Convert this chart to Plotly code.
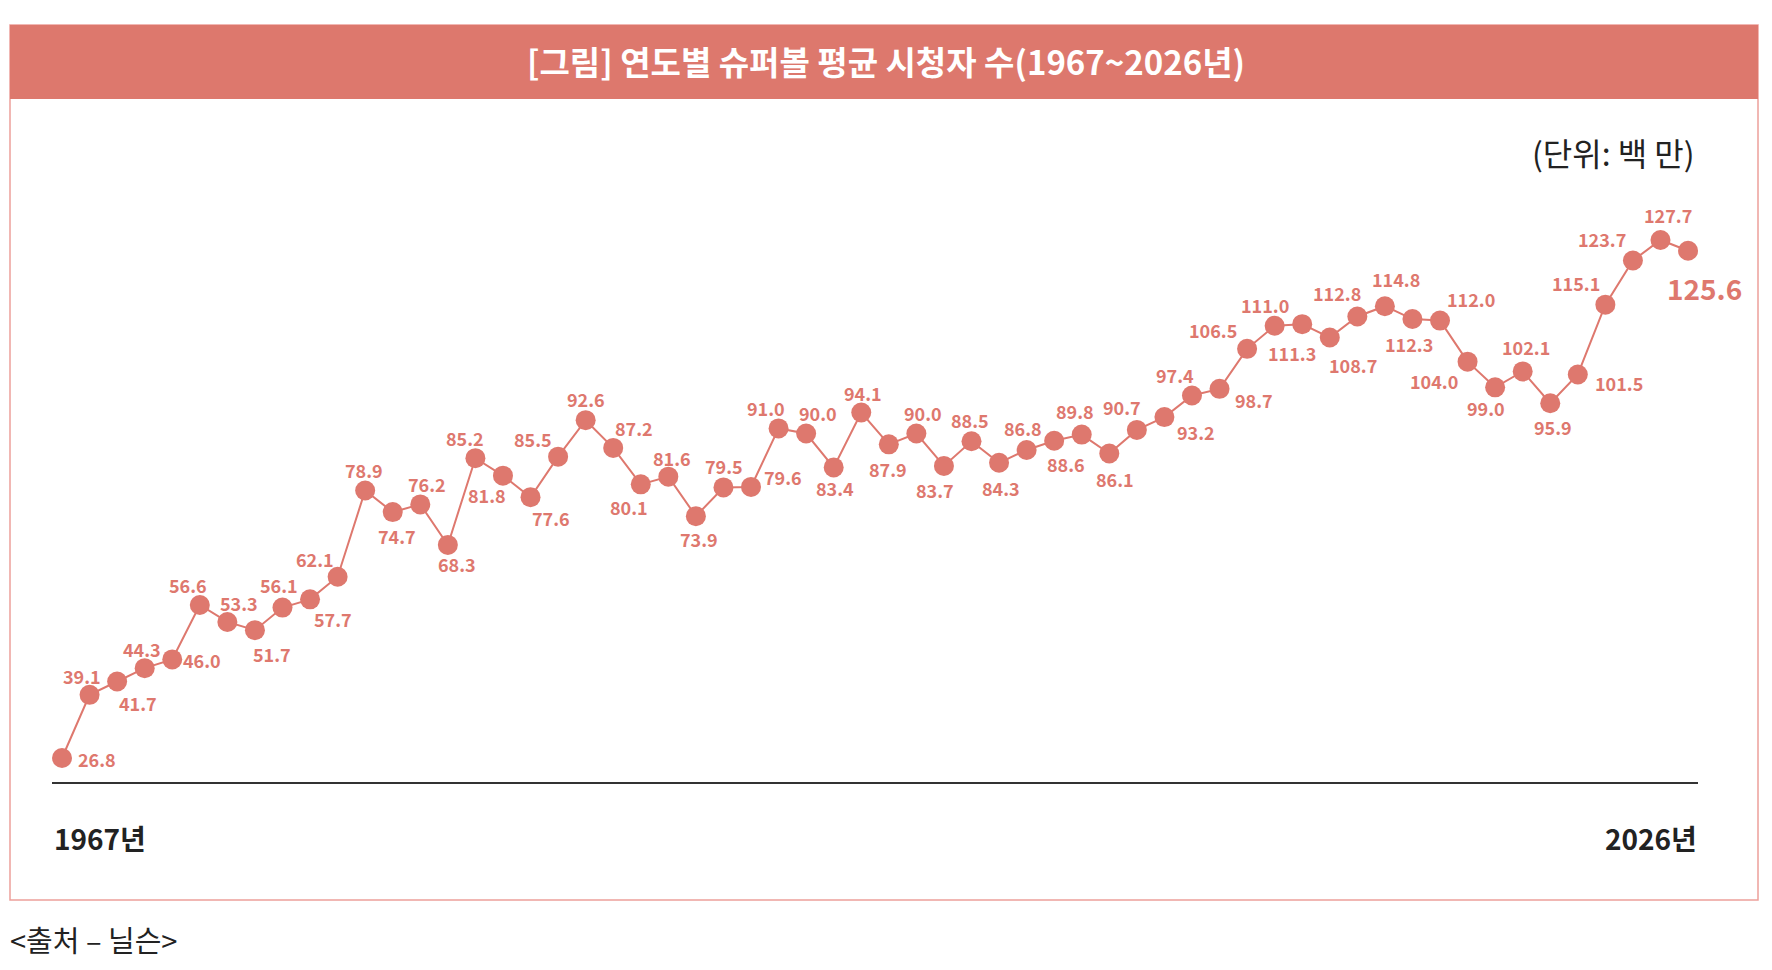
import plotly.graph_objects as go

# ---------------- data ----------------
years = list(range(1967, 2027))
viewers = [
    26.8, 39.1, 41.7, 44.3, 46.0, 56.6, 53.3, 51.7, 56.1, 57.7,
    62.1, 78.9, 74.7, 76.2, 68.3, 85.2, 81.8, 77.6, 85.5, 92.6,
    87.2, 80.1, 81.6, 73.9, 79.5, 79.6, 91.0, 90.0, 83.4, 94.1,
    87.9, 90.0, 83.7, 88.5, 84.3, 86.8, 88.6, 89.8, 86.1, 90.7,
    93.2, 97.4, 98.7, 106.5, 111.0, 111.3, 108.7, 112.8, 114.8, 112.3,
    112.0, 104.0, 99.0, 102.1, 95.9, 101.5, 115.1, 123.7, 127.7, 125.6,
]
end_labels = ["1967년", "2026년"]
title_text = "[그림] 연도별 슈퍼볼 평균 시청자 수(1967~2026년)"
unit_text = "(단위: 백 만)"
source_text = "<출처 – 닐슨>"

# label placement (pixel offsets from each point: dx right, dy down)
label_offsets = [
    (35, 1), (-8, -19), (21, 21), (-3, -19), (30, 1), (-12, -20), (12, -19), (17, 24), (-3, -23), (23, 20),
    (-23, -18), (-1, -21), (4, 24), (7, -20), (9, 19), (-10, -20), (-16, 19), (20, 21), (-25, -18), (0, -21),
    (21, -20), (-12, 23), (4, -19), (3, 23), (1, -21), (32, -10), (-13, -20), (12, -21), (1, 21), (2, -19),
    (-1, 25), (7, -21), (-9, 24), (-1, -21), (2, 25), (-4, -22), (12, 23), (-7, -24), (6, 25), (-15, -23),
    (32, 15), (-17, -21), (34, 11), (-34, -19), (-10, -21), (-10, 29), (23, 27), (-20, -23), (11, -27), (-3, 25),
    (31, -22), (-34, 19), (-9, 21), (3, -24), (3, 24), (41, 9), (-29, -22), (-31, -22), (8, -25), (16, 37),
]

# ---------------- styling ----------------
W, H = 1772, 970
RED = "#DE786E"
FONT = "Noto Sans CJK KR"


def px(x):
    return x / W


def py(y):
    return 1 - y / H


fig = go.Figure()
fig.add_trace(go.Scatter(
    x=years, y=viewers, mode="lines+markers",
    line=dict(color=RED, width=2),
    marker=dict(color=RED, size=20),
    hoverinfo="x+y", showlegend=False,
))

annotations = []
for i, (yr, v) in enumerate(zip(years, viewers)):
    dx, dy = label_offsets[i]
    last = i == len(years) - 1
    annotations.append(dict(
        x=yr, y=v, xref="x", yref="y", text=f"{v:.1f}", showarrow=False,
        xanchor="center", yanchor="middle", xshift=dx, yshift=-dy,
        font=dict(family=FONT, size=28 if last else 18, color=RED, weight="bold"),
    ))

# title
annotations.append(dict(
    x=0.5, y=py(61), xref="paper", yref="paper", text=title_text, showarrow=False,
    xanchor="center", yanchor="middle",
    font=dict(family=FONT, size=33, color="white", weight="bold"),
))
# unit
annotations.append(dict(
    x=px(1697), y=py(152), xref="paper", yref="paper", text=unit_text, showarrow=False,
    xanchor="right", yanchor="middle",
    font=dict(family=FONT, size=32, color="#222222"),
))
# end year labels
annotations.append(dict(
    x=px(52), y=py(838), xref="paper", yref="paper", text=end_labels[0], showarrow=False,
    xanchor="left", yanchor="middle",
    font=dict(family=FONT, size=28, color="#222222", weight="bold"),
))
annotations.append(dict(
    x=px(1699), y=py(838), xref="paper", yref="paper", text=end_labels[1], showarrow=False,
    xanchor="right", yanchor="middle",
    font=dict(family=FONT, size=28, color="#222222", weight="bold"),
))
# source
annotations.append(dict(
    x=px(8), y=py(939), xref="paper", yref="paper", text=source_text, showarrow=False,
    xanchor="left", yanchor="middle",
    font=dict(family=FONT, size=29, color="#222222"),
))

shapes = [
    # outer frame
    dict(type="rect", xref="paper", yref="paper", x0=px(10), x1=px(1758), y0=py(900), y1=py(25),
         line=dict(color="#EDA09A", width=1.5), fillcolor="rgba(0,0,0,0)", layer="below"),
    # title band
    dict(type="rect", xref="paper", yref="paper", x0=px(10), x1=px(1758), y0=py(99), y1=py(25),
         line=dict(width=0), fillcolor="#DD786D", layer="below"),
    # baseline
    dict(type="line", xref="paper", yref="paper", x0=px(52), x1=px(1698), y0=py(783), y1=py(783),
         line=dict(color="#333333", width=2)),
]

fig.update_layout(
    width=W, height=H,
    margin=dict(l=0, r=0, t=0, b=0),
    paper_bgcolor="white", plot_bgcolor="rgba(0,0,0,0)",
    font=dict(family=FONT),
    xaxis=dict(range=[1964.750, 2029.046], visible=False, fixedrange=True),
    yaxis=dict(range=[-14.49, 174.44], visible=False, fixedrange=True),
    annotations=annotations,
    shapes=shapes,
    showlegend=False,
)

fig.write_html("out.html", config={"displayModeBar": False},
               post_script="document.body.style.margin='0';")
